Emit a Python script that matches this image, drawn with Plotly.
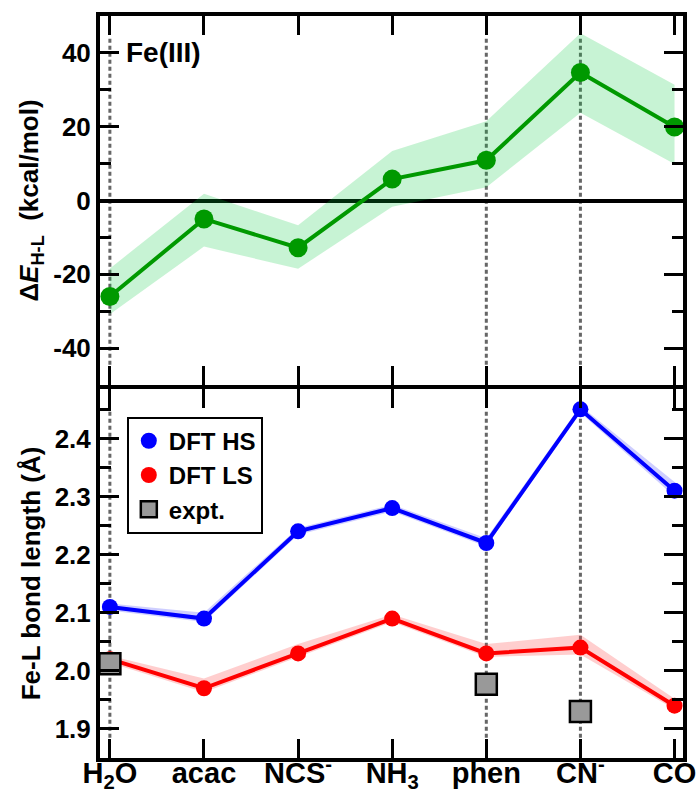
import plotly.graph_objects as go
from plotly.subplots import make_subplots

# ---- data ----
ligands = ["H<sub>2</sub>O", "acac", "NCS<sup>-</sup>", "NH<sub>3</sub>", "phen", "CN<sup>-</sup>", "CO"]
xpos = list(range(len(ligands)))

dE = [-26.0, -5.0, -12.8, 5.8, 10.9, 34.7, 19.9]
dE_lo = [-30.8, -12.5, -18.5, -1.7, 3.6, 23.8, 9.9]
dE_hi = [-18.4, 1.8, -6.7, 13.4, 21.5, 45.3, 31.4]

hs = [2.11, 2.09, 2.24, 2.28, 2.22, 2.45, 2.31]
hs_lo = [2.104, 2.084, 2.234, 2.274, 2.214, 2.444, 2.300]
hs_hi = [2.116, 2.100, 2.246, 2.286, 2.228, 2.456, 2.325]

ls = [2.02, 1.97, 2.03, 2.09, 2.03, 2.04, 1.94]
ls_lo = [2.014, 1.963, 2.024, 2.084, 2.024, 2.028, 1.934]
ls_hi = [2.026, 1.987, 2.046, 2.097, 2.046, 2.062, 1.952]

expt_x = [0, 4, 5]
expt = [2.012, 1.977, 1.930]

guide_x = [0, 4, 5]

dE_ticks = [-40, -20, 0, 20, 40]
dE_ticklabels = ["-40", "-20", "0", "20", "40"]
bl_ticks = [1.9, 2.0, 2.1, 2.2, 2.3, 2.4]
bl_ticklabels = ["1.9", "2.0", "2.1", "2.2", "2.3", "2.4"]

# ---- styles ----
FONT = "Liberation Sans, Arial, sans-serif"
GREEN = "rgb(0,153,0)"
fig = make_subplots(rows=2, cols=1, shared_xaxes=True, vertical_spacing=0)

# top panel
fig.add_trace(go.Scatter(x=xpos, y=dE_lo, mode="lines", line=dict(width=0),
                         showlegend=False, hoverinfo="skip"), row=1, col=1)
fig.add_trace(go.Scatter(x=xpos, y=dE_hi, mode="lines", line=dict(width=0),
                         fill="tonexty", fillcolor="rgba(0,200,60,0.22)",
                         showlegend=False, hoverinfo="skip"), row=1, col=1)
fig.add_trace(go.Scatter(x=xpos, y=dE, mode="lines+markers",
                         line=dict(color=GREEN, width=4),
                         marker=dict(color=GREEN, size=19),
                         showlegend=False), row=1, col=1)

# bottom panel bands
fig.add_trace(go.Scatter(x=xpos, y=hs_lo, mode="lines", line=dict(width=0),
                         showlegend=False, hoverinfo="skip"), row=2, col=1)
fig.add_trace(go.Scatter(x=xpos, y=hs_hi, mode="lines", line=dict(width=0),
                         fill="tonexty", fillcolor="rgba(60,60,255,0.25)",
                         showlegend=False, hoverinfo="skip"), row=2, col=1)
fig.add_trace(go.Scatter(x=xpos, y=ls_lo, mode="lines", line=dict(width=0),
                         showlegend=False, hoverinfo="skip"), row=2, col=1)
fig.add_trace(go.Scatter(x=xpos, y=ls_hi, mode="lines", line=dict(width=0),
                         fill="tonexty", fillcolor="rgba(255,60,60,0.25)",
                         showlegend=False, hoverinfo="skip"), row=2, col=1)

# lines
fig.add_trace(go.Scatter(x=xpos, y=hs, mode="lines", line=dict(color="#0000ff", width=4),
                         showlegend=False), row=2, col=1)
fig.add_trace(go.Scatter(x=xpos, y=ls, mode="lines", line=dict(color="#ff0000", width=4),
                         showlegend=False), row=2, col=1)
# markers (legend)
fig.add_trace(go.Scatter(x=xpos, y=hs, mode="markers", name="DFT HS",
                         marker=dict(color="#0000ff", size=16)), row=2, col=1)
fig.add_trace(go.Scatter(x=xpos, y=ls, mode="markers", name="DFT LS",
                         marker=dict(color="#ff0000", size=16)), row=2, col=1)
fig.add_trace(go.Scatter(x=expt_x, y=expt, mode="markers", name="expt.",
                         marker=dict(color="#999999", size=21, symbol="square",
                                     line=dict(color="black", width=2.5))), row=2, col=1)

# guide lines
for yref in ["y domain", "y2 domain"]:
    for gx in guide_x:
        fig.add_shape(type="line", xref="x", yref=yref, x0=gx, x1=gx, y0=0.055, y1=0.945,
                      line=dict(color="#666666", width=3, dash="4px,3px"), layer="below")

tickfont = dict(family=FONT, size=26, color="black", weight="bold")
axis_common = dict(showline=True, linecolor="black", linewidth=4, mirror="ticks",
                   ticks="inside", ticklen=19, tickwidth=3, tickcolor="black",
                   showgrid=False, zeroline=False, automargin=False)

fig.update_xaxes(range=[-0.105, 6.09], tickvals=xpos, ticktext=ligands, **axis_common)
fig.update_xaxes(showticklabels=False, row=1, col=1)
fig.update_xaxes(tickfont=dict(family=FONT, size=29, color="black", weight="bold"),
                 ticklabelstandoff=-14, row=2, col=1)

fig.update_yaxes(**axis_common)
fig.update_yaxes(range=[-50, 50], tickvals=dE_ticks, ticktext=dE_ticklabels, tickfont=tickfont,
                 domain=[0.5027, 1.0],
                 zeroline=True, zerolinecolor="black", zerolinewidth=4,
                 minor=dict(dtick=10, ticks="inside", ticklen=11, tickwidth=3, tickcolor="black"),
                 title=dict(text="Δ<i>E</i><sub>H-L</sub>  (kcal/mol)",
                            font=dict(family=FONT, size=26, color="black", weight="bold"),
                            standoff=8),
                 row=1, col=1)
fig.update_yaxes(range=[1.85, 2.485], tickvals=bl_ticks, ticktext=bl_ticklabels, tickfont=tickfont,
                 domain=[0.0, 0.4973],
                 minor=dict(dtick=0.05, tick0=1.85, ticks="inside", ticklen=11, tickwidth=3,
                            tickcolor="black"),
                 title=dict(text="Fe-L bond length (Å)",
                            font=dict(family=FONT, size=26, color="black", weight="bold"),
                            standoff=8),
                 row=2, col=1)

fig.add_annotation(text="Fe(III)", xref="x", yref="y", x=0.15, y=40, xanchor="left",
                   yanchor="middle", showarrow=False,
                   font=dict(family=FONT, size=28, color="black", weight="bold"))

fig.update_layout(
    width=699, height=793,
    margin=dict(l=100, r=16, t=16, b=35, autoexpand=False),
    plot_bgcolor="white", paper_bgcolor="white",
    legend=dict(x=0.046, y=0.46, xanchor="left", yanchor="top", traceorder="normal",
                bordercolor="black", borderwidth=2, bgcolor="white",
                font=dict(family=FONT, size=24, color="black", weight="bold"),
                itemwidth=30, tracegroupgap=0),
)

fig.write_html("out.html")
